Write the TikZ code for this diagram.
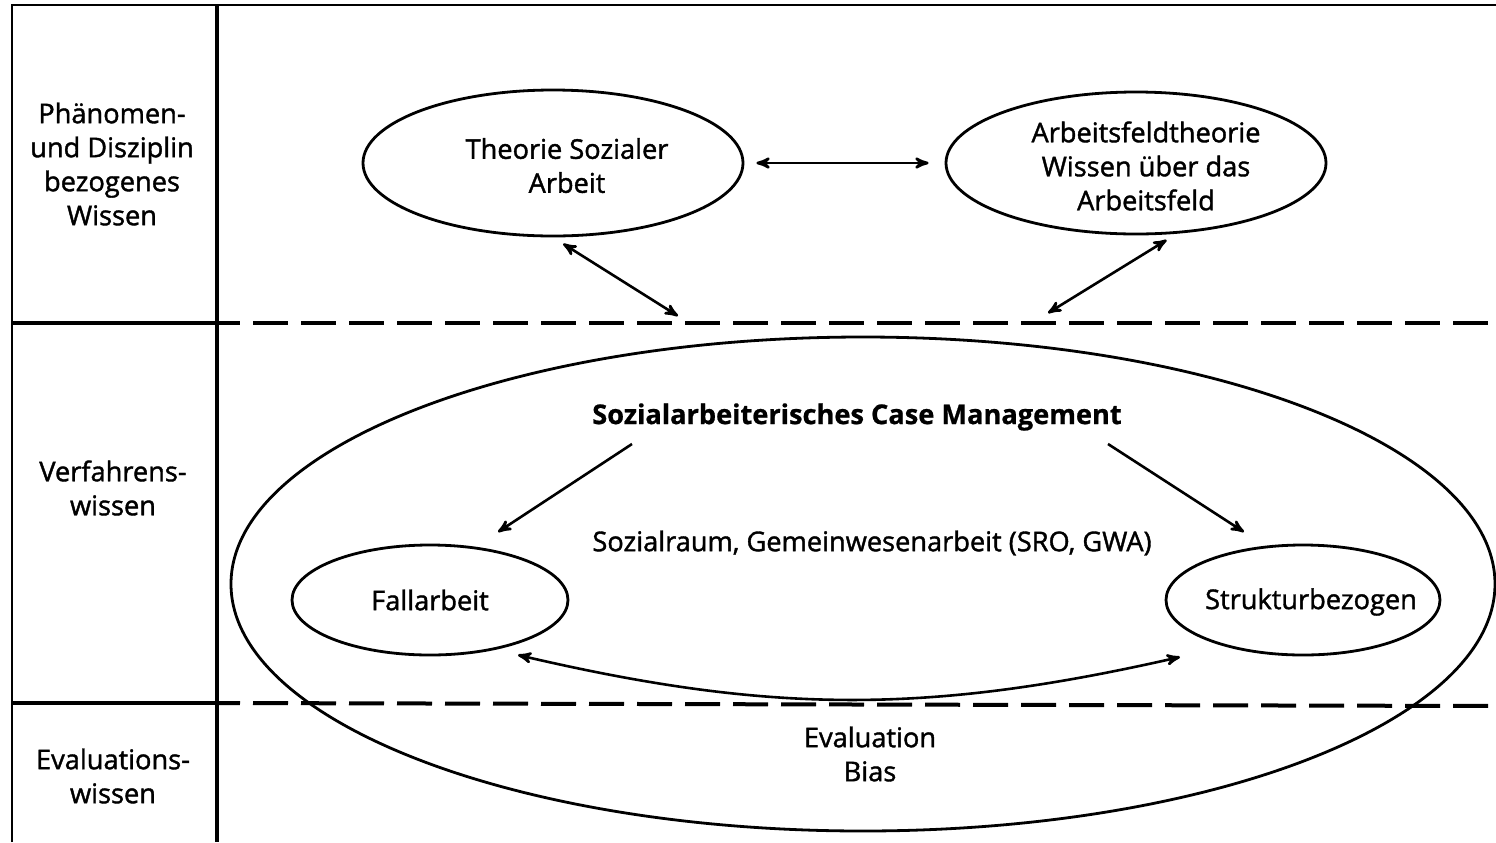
\documentclass[tikz,border=0pt]{standalone}
\usepackage{fontspec}
\setmainfont{Open Sans}[UprightFeatures={FakeBold=1.4},BoldFeatures={FakeBold=0.8}]
\usetikzlibrary{arrows,shapes}

\begin{document}
\begin{tikzpicture}[x=0.5pt,y=-0.5pt,font=\fontsize{13.6}{17}\selectfont,
    every node/.style={align=center},
    feld/.style={ellipse,draw,line width=1.4pt,inner sep=0pt},
    pfeil/.style={line width=1.3pt,>=stealth'},
    trenn/.style={line width=2pt,dash pattern=on 17.5pt off 6.5pt,dash phase=6pt}]
\useasboundingbox (0,0) rectangle (1496,842);
\draw[line width=1pt] (12,842) -- (12,5) -- (1496,5);
\draw[line width=2pt] (217,5) -- (217,842);
\draw[line width=2pt] (12,323) -- (217,323);
\draw[line width=2pt] (12,703) -- (217,703);
\draw[trenn] (217,323) -- (1496,323);
\draw[trenn] (217,703) -- (1496,706);
\node (phaen) at (112,164) {Phänomen-\\und Disziplin\\bezogenes\\Wissen};
\node (verf) at (113,488) {Verfahrens-\\wissen};
\node (evalw) at (113,776) {Evaluations-\\wissen};
\node[feld,minimum width=190pt,minimum height=73pt,
    label={[xshift=7pt,yshift=-1.3pt]center:{Theorie Sozialer\\Arbeit}}] (theorie) at (553,163) {};
\node[feld,minimum width=190pt,minimum height=71pt,
    label={[xshift=5pt,yshift=-1.5pt]center:{Arbeitsfeldtheorie\\Wissen über das\\Arbeitsfeld}}] (feldth) at (1136,163) {};
\node[feld,minimum width=632pt,minimum height=247pt] (cm) at (863,584) {};
\node (titel) at (857,417) {\bfseries Sozialarbeiterisches Case Management};
\node (raum) at (872,543) {Sozialraum, Gemeinwesenarbeit (SRO, GWA)};
\node[feld,minimum width=138pt,minimum height=55pt] (fall) at (430,600) {Fallarbeit};
\node[feld,minimum width=137pt,minimum height=55pt,
    label={[xshift=4pt,yshift=-1pt]center:Strukturbezogen}] (struktur) at (1303,600) {};
\node (bias) at (870,754) {Evaluation\\Bias};
\coordinate (tl) at (678,316);
\coordinate (tr) at (1048,313);
\coordinate (ta) at (632,444);
\coordinate (fa) at (498,532);
\coordinate (tb) at (1108,444);
\coordinate (sb) at (1244,532);
\coordinate (fc) at (518,655);
\coordinate (sc) at (1180,657);
\draw[pfeil,<->,shorten <=6pt,shorten >=8pt] (theorie.east) -- (feldth.west);
\draw[pfeil,<->,shorten <=6pt] (theorie.south) -- (tl);
\draw[pfeil,<->,shorten <=6pt] (feldth.-60) -- (tr);
\draw[pfeil,->] (ta) -- (fa);
\draw[pfeil,->] (tb) -- (sb);
\draw[pfeil,<->] (fc) to[bend right=13] (sc);
\end{tikzpicture}
\end{document}
